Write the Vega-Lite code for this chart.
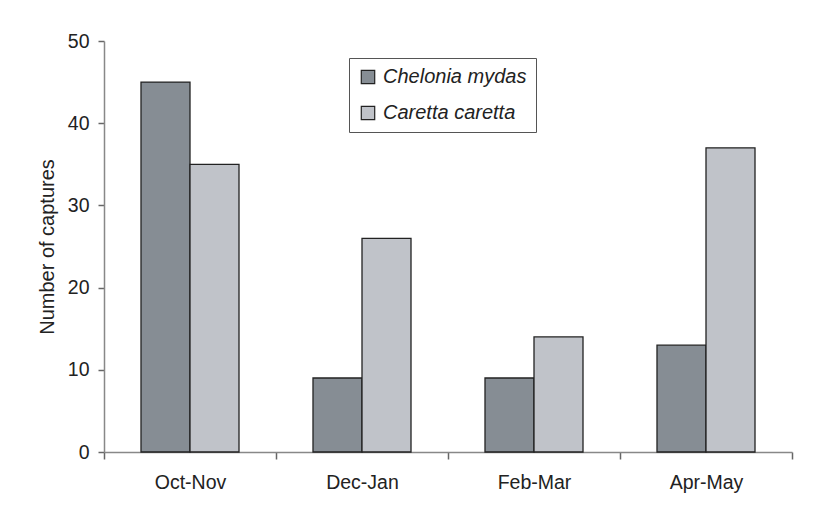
{
  "$schema": "https://vega.github.io/schema/vega-lite/v6.json",
  "width": 688,
  "height": 411,
  "autosize": {"type": "none"},
  "padding": {"left": 104, "top": 41, "right": 36, "bottom": 62},
  "background": "white",
  "config": {
    "view": {"stroke": null},
    "font": "Liberation Sans"
  },
  "data": {
    "values": [
      {"period": "Oct-Nov", "species": "Chelonia mydas", "captures": 45},
      {"period": "Oct-Nov", "species": "Caretta caretta", "captures": 35},
      {"period": "Dec-Jan", "species": "Chelonia mydas", "captures": 9},
      {"period": "Dec-Jan", "species": "Caretta caretta", "captures": 26},
      {"period": "Feb-Mar", "species": "Chelonia mydas", "captures": 9},
      {"period": "Feb-Mar", "species": "Caretta caretta", "captures": 14},
      {"period": "Apr-May", "species": "Chelonia mydas", "captures": 13},
      {"period": "Apr-May", "species": "Caretta caretta", "captures": 37}
    ]
  },
  "mark": {"type": "bar", "stroke": "#222222", "strokeWidth": 1.3},
  "encoding": {
    "x": {
      "field": "period",
      "type": "nominal",
      "sort": ["Oct-Nov", "Dec-Jan", "Feb-Mar", "Apr-May"],
      "scale": {"paddingInner": 0, "paddingOuter": 0},
      "axis": {
        "title": null,
        "labelAngle": 0,
        "labelFontSize": 19.5,
        "labelColor": "#222222",
        "labelPadding": 14,
        "tickBand": "extent",
        "tickSize": 7,
        "tickColor": "#666666",
        "domainColor": "#888888",
        "domainWidth": 1.5,
        "tickWidth": 1.5
      }
    },
    "xOffset": {
      "field": "species",
      "type": "nominal",
      "sort": ["Chelonia mydas", "Caretta caretta"],
      "scale": {"paddingInner": 0, "paddingOuter": 0.755}
    },
    "y": {
      "field": "captures",
      "type": "quantitative",
      "scale": {"domain": [0, 50], "nice": false},
      "axis": {
        "title": "Number of captures",
        "titleFontSize": 20,
        "titleFontWeight": "normal",
        "titleColor": "#222222",
        "titlePadding": 10,
        "values": [0, 10, 20, 30, 40, 50],
        "grid": false,
        "labelFontSize": 19.5,
        "labelColor": "#222222",
        "labelPadding": 9,
        "tickSize": 6,
        "tickColor": "#666666",
        "domainColor": "#888888",
        "domainWidth": 1.5,
        "tickWidth": 1.5
      }
    },
    "fill": {
      "field": "species",
      "type": "nominal",
      "sort": ["Chelonia mydas", "Caretta caretta"],
      "scale": {"domain": ["Chelonia mydas", "Caretta caretta"], "range": ["#868d94", "#c0c3c9"]},
      "legend": {
        "title": null,
        "orient": "none",
        "legendX": 245,
        "legendY": 17,
        "direction": "vertical",
        "strokeColor": "#555555",
        "padding": 9,
        "symbolType": "square",
        "symbolSize": 180,
        "symbolStrokeColor": "#222222",
        "symbolStrokeWidth": 1.2,
        "labelFontSize": 20,
        "labelFontStyle": "italic",
        "labelColor": "#222222",
        "labelOffset": 5,
        "rowPadding": 16,
        "labelLimit": 300
      }
    }
  }
}
